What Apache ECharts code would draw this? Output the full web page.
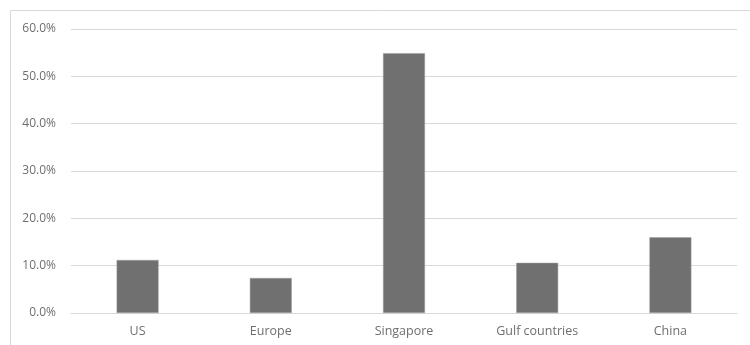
<!DOCTYPE html>
<html>
<head>
<meta charset="utf-8">
<script src="https://cdn.jsdelivr.net/npm/echarts@6/dist/echarts.min.js"></script>
<style>html,body{margin:0;padding:0;background:#fff}#c{width:750px;height:345px}</style>
</head>
<body>
<div id="c"></div>
<script>
const categories = ["US", "Europe", "Singapore", "Gulf countries", "China"];
const shares = [11.2, 7.4, 54.9, 10.6, 16.0];
const yTicks = [0, 10, 20, 30, 40, 50, 60];

const chart = echarts.init(document.getElementById('c'), null, {renderer: 'canvas'});
chart.setOption({
  animation: false,
  backgroundColor: '#ffffff',
  graphic: [{
    type: 'rect', left: 8, top: 8,
    shape: {x: 0, y: 0, width: 760, height: 360},
    style: {fill: 'none', stroke: '#d9d9d9', lineWidth: 1}
  }],
  grid: {left: 71, right: 13, top: 29, bottom: 32, containLabel: false},
  xAxis: {
    type: 'category',
    data: categories,
    axisLine: {show: true, lineStyle: {color: '#d9d9d9'}},
    axisTick: {show: false},
    axisLabel: {color: '#6e6e6e', fontSize: 12.5, fontFamily: 'Open Sans', margin: 12}
  },
  yAxis: {
    type: 'value',
    min: yTicks[0], max: yTicks[yTicks.length - 1], interval: 10,
    axisLine: {show: false},
    axisTick: {show: false},
    splitLine: {lineStyle: {color: '#d9d9d9', width: 1}},
    axisLabel: {color: '#6e6e6e', fontSize: 12, fontFamily: 'Open Sans', margin: 15,
      formatter: v => v.toFixed(1) + '%'}
  },
  series: [{
    type: 'bar',
    data: shares,
    barWidth: '31.5%',
    itemStyle: {color: '#707070', borderColor: '#a0a0a0', borderWidth: 0.5}
  }]
});
</script>
</body>
</html>
